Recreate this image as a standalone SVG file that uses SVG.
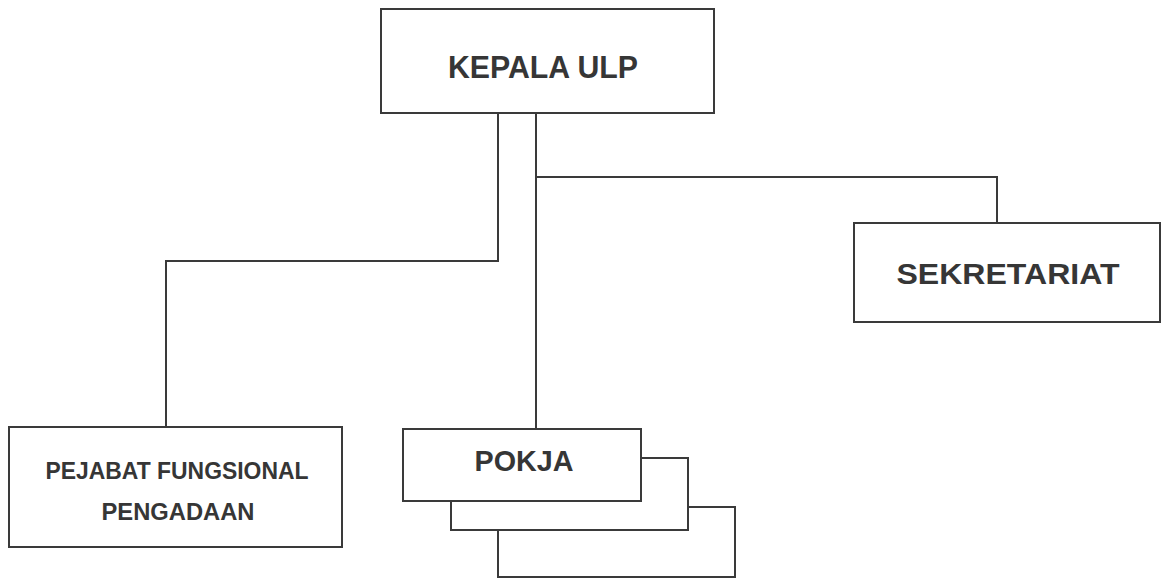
<svg xmlns="http://www.w3.org/2000/svg" width="1162" height="579" viewBox="0 0 1162 579">
<style>
.box{fill:#fff;stroke:#3a3a3a;stroke-width:2}
.ln{fill:none;stroke:#3a3a3a;stroke-width:2}
.t{font-family:"Liberation Sans",Arial,sans-serif;font-weight:bold;fill:#363636;text-anchor:middle}
</style>
<rect width="1162" height="579" fill="#fff"/>
<g id="connectors">
<polyline class="ln" points="498,113 498,261 166,261 166,427"/>
<polyline class="ln" points="536,113 536,429"/>
<polyline class="ln" points="536,177 997,177 997,223"/>
</g>
<g id="kepala">
<rect class="box" x="381" y="9" width="333" height="104"/>
<text class="t" x="543" y="78" font-size="31" textLength="190" lengthAdjust="spacingAndGlyphs">KEPALA ULP</text>
</g>
<g id="sekretariat">
<rect class="box" x="854" y="223" width="306" height="99"/>
<text class="t" x="1008" y="284" font-size="30" textLength="223" lengthAdjust="spacingAndGlyphs">SEKRETARIAT</text>
</g>
<g id="pejabat">
<rect class="box" x="9" y="427" width="333" height="120"/>
<text class="t" x="177" y="479" font-size="24" textLength="263" lengthAdjust="spacingAndGlyphs">PEJABAT FUNGSIONAL</text>
<text class="t" x="178" y="520" font-size="24" textLength="153" lengthAdjust="spacingAndGlyphs">PENGADAAN</text>
</g>
<g id="pokja">
<rect class="box" x="498" y="507" width="237" height="70"/>
<rect class="box" x="451" y="458" width="237" height="72"/>
<rect class="box" x="403" y="429" width="238" height="72"/>
<text class="t" x="524" y="471" font-size="30" textLength="99" lengthAdjust="spacingAndGlyphs">POKJA</text>
</g>
</svg>
